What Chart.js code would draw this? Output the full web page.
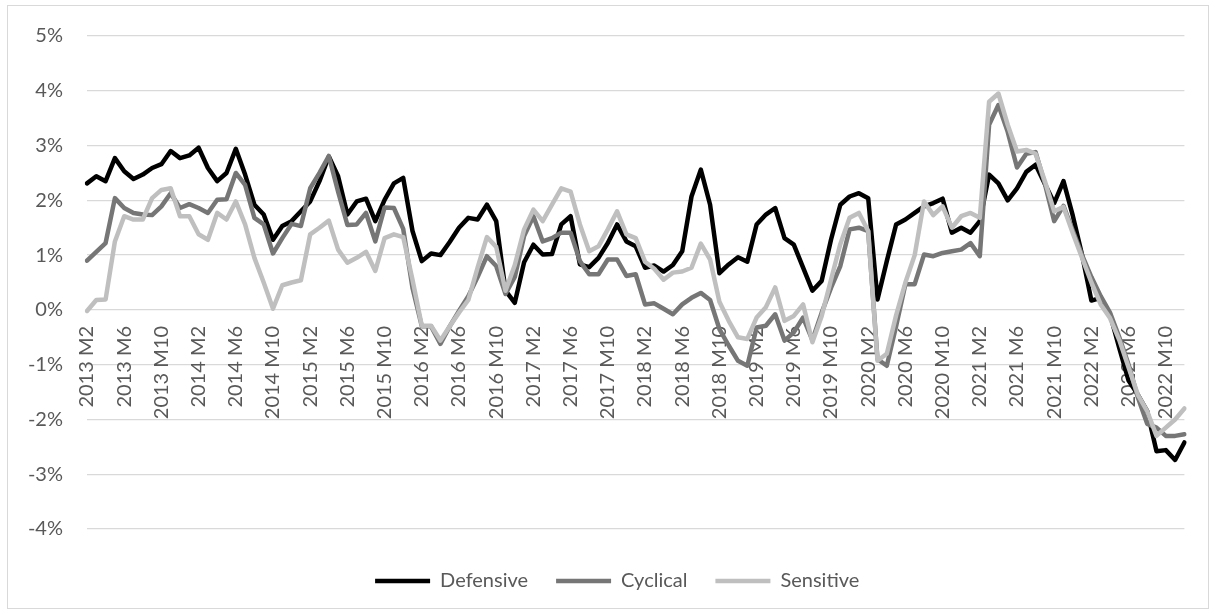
<!DOCTYPE html>
<html>
<head>
<meta charset="utf-8">
<script src="https://cdn.jsdelivr.net/npm/chart.js@4"></script>
<style>
  html, body { margin: 0; padding: 0; background: #fff; }
  #wrap { position: relative; width: 1215px; height: 614px; }
  #frame { position: absolute; left: 7px; top: 5px; width: 1200px; height: 602px; border: 1px solid #d9d9d9; pointer-events: none; }
</style>
</head>
<body>
<div id="wrap">
  <canvas id="chart" width="1215" height="614"></canvas>
  <div id="frame"></div>
</div>
<script>
// months 2013 M2 .. 2022 M12
const firstYear = 2013;
const firstMonth = 2;
const monthCount = 119;
const categories = [];
for (let k = 0; k < monthCount; k++) {
  const m = firstMonth - 1 + k;
  categories.push((firstYear + Math.floor(m / 12)) + ' M' + (m % 12 + 1));
}

// values in %
const defensive = [
  2.31, 2.44, 2.35, 2.77, 2.53, 2.39, 2.47, 2.59, 2.66, 2.90, 2.77, 2.82,
  2.96, 2.59, 2.35, 2.50, 2.94, 2.47, 1.92, 1.74, 1.28, 1.53, 1.62, 1.80,
  1.98, 2.35, 2.80, 2.44, 1.74, 1.98, 2.03, 1.62, 2.01, 2.31, 2.41, 1.44,
  0.89, 1.03, 1.00, 1.24, 1.50, 1.68, 1.65, 1.92, 1.62, 0.35, 0.13, 0.87,
  1.19, 1.01, 1.02, 1.56, 1.71, 0.83, 0.78, 0.95, 1.22, 1.56, 1.25, 1.16,
  0.77, 0.81, 0.70, 0.82, 1.07, 2.07, 2.56, 1.92, 0.67, 0.83, 0.96, 0.88,
  1.56, 1.74, 1.86, 1.31, 1.19, 0.77, 0.35, 0.53, 1.28, 1.92, 2.07, 2.13,
  2.04, 0.19, 0.89, 1.56, 1.65, 1.77, 1.89, 1.95, 2.03, 1.41, 1.50, 1.41,
  1.62, 2.47, 2.31, 2.00, 2.22, 2.52, 2.65, 2.30, 1.95, 2.35, 1.72, 1.00,
  0.17, 0.22, -0.08, -0.70, -1.29, -1.55, -1.85, -2.58, -2.56, -2.74, -2.42
];
const cyclical = [
  0.90, 1.06, 1.22, 2.04, 1.86, 1.77, 1.74, 1.73, 1.89, 2.13, 1.86, 1.93,
  1.86, 1.77, 2.01, 2.02, 2.50, 2.28, 1.68, 1.56, 1.03, 1.31, 1.57, 1.53,
  2.22, 2.50, 2.81, 2.16, 1.55, 1.56, 1.77, 1.25, 1.87, 1.86, 1.48, 0.40,
  -0.30, -0.30, -0.62, -0.30, -0.02, 0.25, 0.60, 0.98, 0.80, 0.29, 0.60, 1.35,
  1.71, 1.25, 1.31, 1.41, 1.41, 0.89, 0.65, 0.65, 0.92, 0.92, 0.62, 0.65,
  0.10, 0.12, 0.02, -0.08, 0.10, 0.22, 0.31, 0.18, -0.35, -0.65, -0.93, -1.02,
  -0.32, -0.29, -0.08, -0.56, -0.41, -0.14, -0.55, -0.05, 0.40, 0.80, 1.47, 1.50,
  1.44, -0.90, -1.02, -0.30, 0.47, 0.47, 1.01, 0.98, 1.04, 1.07, 1.10, 1.22,
  0.98, 3.38, 3.74, 3.25, 2.60, 2.85, 2.88, 2.30, 1.62, 1.90, 1.45, 1.00,
  0.60, 0.25, -0.05, -0.50, -1.00, -1.60, -2.08, -2.15, -2.30, -2.30, -2.27
];
const sensitive = [
  -0.02, 0.18, 0.19, 1.25, 1.71, 1.65, 1.65, 2.04, 2.19, 2.22, 1.71, 1.71,
  1.38, 1.28, 1.77, 1.65, 1.98, 1.56, 0.95, 0.50, 0.02, 0.45, 0.50, 0.54,
  1.38, 1.50, 1.63, 1.10, 0.86, 0.95, 1.06, 0.71, 1.31, 1.38, 1.33, 0.55,
  -0.29, -0.29, -0.56, -0.30, -0.05, 0.18, 0.77, 1.33, 1.15, 0.35, 0.82, 1.47,
  1.83, 1.62, 1.92, 2.22, 2.16, 1.56, 1.07, 1.16, 1.47, 1.80, 1.38, 1.31,
  0.88, 0.75, 0.55, 0.68, 0.70, 0.77, 1.21, 0.92, 0.15, -0.20, -0.50, -0.53,
  -0.14, 0.05, 0.41, -0.20, -0.11, 0.10, -0.59, -0.11, 0.55, 1.20, 1.68, 1.77,
  1.44, -0.93, -0.80, -0.10, 0.50, 1.00, 1.98, 1.73, 1.89, 1.50, 1.71, 1.77,
  1.68, 3.80, 3.95, 3.38, 2.89, 2.92, 2.85, 2.35, 1.80, 1.88, 1.40, 0.95,
  0.50, 0.10, -0.15, -0.55, -1.05, -1.55, -1.85, -2.30, -2.15, -2.00, -1.80
];

const yTicks = [-4, -3, -2, -1, 0, 1, 2, 3, 4, 5];
const labelEvery = 4;

const textColor = '#595959';
const gridColor = '#d9d9d9';
const fontFamily = 'Lato, "Liberation Sans", sans-serif';

// push the legend down to sit where the Excel one does
const legendShift = {
  id: 'legendShift',
  afterLayout(chart) {
    const lg = chart.legend;
    lg.top += 14; lg.bottom += 14;
    lg.left += 25; lg.right += 25;
  }
};

function line(label, data, color, order) {
  return {
    label: label,
    data: data,
    borderColor: color,
    backgroundColor: color,
    borderWidth: 4.5,
    pointRadius: 0,
    pointHoverRadius: 0,
    tension: 0,
    borderJoinStyle: 'round',
    borderCapStyle: 'round',
    order: order
  };
}

new Chart(document.getElementById('chart'), {
  type: 'line',
  data: {
    labels: categories,
    datasets: [
      line('Defensive', defensive, '#000000', 2),
      line('Cyclical', cyclical, '#767676', 1),
      line('Sensitive', sensitive, '#bfbfbf', 0)
    ]
  },
  options: {
    responsive: false,
    animation: false,
    layout: { padding: { left: 0, right: 30.6, top: 34.5, bottom: 27 } },
    plugins: {
      tooltip: { enabled: false },
      legend: {
        position: 'bottom',
        labels: {
          usePointStyle: true,
          pointStyle: 'line',
          pointStyleWidth: 55,
          color: textColor,
          font: { family: fontFamily, size: 20 },
          padding: 28,
          sort: (a, b) => a.datasetIndex - b.datasetIndex
        }
      }
    },
    scales: {
      x: {
        position: { y: 0 },
        offset: false,
        grid: { display: false, drawTicks: false },
        border: { display: false },
        ticks: {
          autoSkip: false,
          minRotation: 90,
          maxRotation: 90,
          padding: 16,
          color: textColor,
          font: { family: fontFamily, size: 20 },
          callback: function (v, i) {
            return i % labelEvery === 0 ? this.getLabelForValue(v) : null;
          }
        }
      },
      y: {
        min: yTicks[0],
        max: yTicks[yTicks.length - 1],
        afterFit: (s) => { s.width = 87; },
        afterBuildTicks: (s) => { s.ticks = yTicks.map(v => ({ value: v })); },
        grid: { color: gridColor, lineWidth: 1.3, drawTicks: false },
        border: { display: false },
        ticks: {
          padding: 24,
          color: textColor,
          font: { family: fontFamily, size: 20 },
          callback: (v) => v + '%'
        }
      }
    }
  },
  plugins: [legendShift]
});
</script>
</body>
</html>
